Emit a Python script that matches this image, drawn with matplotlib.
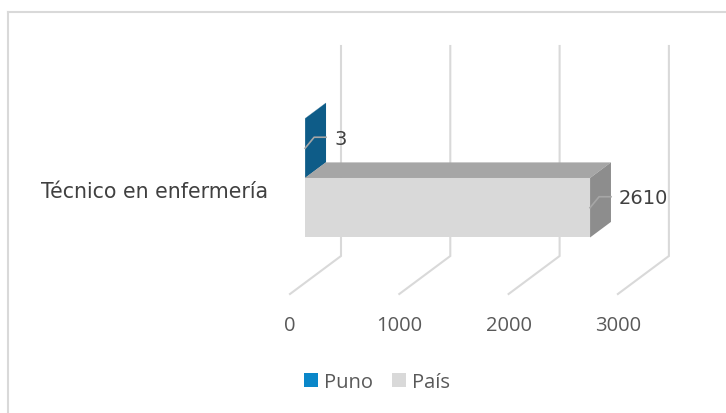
import matplotlib.pyplot as plt
from matplotlib.patches import Polygon, Patch
from matplotlib.lines import Line2D

# datos
categoria = "Técnico en enfermería"
series = ["Puno", "País"]
valores = [3, 2610]
ticks = [0, 1000, 2000, 3000]

# colores (cara frontal, cara superior, cara lateral, leyenda)
col_front = ["#0E5C88", "#D9D9D9"]
col_top = ["#0B4E75", "#A6A6A6"]
col_side = ["#0E5C88", "#8D8D8D"]
col_leg = ["#0A87C9", "#D9D9D9"]
grid_col = "#D9D9D9"
txt_col = "#595959"

W, H = 726, 414
PX = 0.1093          # pixeles por unidad
X0 = 290             # pixel del valor 0 (plano frontal)
DXu = 51 / PX        # profundidad del piso en unidades
DY = 38              # profundidad del piso en pixeles (vertical)
FLOOR_Y = 295
TOP_Y = 47
d0, d1 = 0.29, 0.70  # posicion de las barras en la profundidad
bar_h = 59.5
cat_y = 190          # centro de la categoria en el plano frontal

fig = plt.figure(figsize=(W / 100, H / 100), dpi=100)
ax = fig.add_axes([0, 0, 1, 1])
ax.set_xlim(-X0 / PX, (W - X0) / PX)
ax.set_ylim(H, 0)
ax.axis("off")

# borde del grafico
fig.add_artist(Line2D([8 / W, 1], [1 - 13 / H] * 2, color=grid_col, lw=1.5))
fig.add_artist(Line2D([8 / W] * 2, [0, 1 - 13 / H], color=grid_col, lw=1.5))

# lineas de division (pared y piso)
for t in ticks:
    ax.plot([t, t + DXu, t + DXu], [FLOOR_Y, FLOOR_Y - DY, TOP_Y],
            color=grid_col, lw=1.5, solid_joinstyle="miter", zorder=1)
    ax.text(t, 326, f"{t}", ha="center", va="center", fontsize=14.5,
            color=txt_col, family="Open Sans")

# barras 3D
off_x = d0 * DXu
off_y = d0 * DY
bx = (d1 - d0) * DXu
by = (d1 - d0) * DY
tops = [cat_y - bar_h, cat_y]
for i, v in enumerate(valores):
    y_top = tops[i] - off_y
    y_bot = y_top + bar_h
    ax.barh(y_top + bar_h / 2, v, height=bar_h, left=off_x,
            color=col_front[i], zorder=3 + i)
    x_end = off_x + v
    ax.add_patch(Polygon([(off_x, y_top), (x_end, y_top), (x_end + bx, y_top - by),
                          (off_x + bx, y_top - by)], closed=True,
                         facecolor=col_top[i], edgecolor="none", zorder=3 + i))
    ax.add_patch(Polygon([(x_end, y_top), (x_end + bx, y_top - by),
                          (x_end + bx, y_bot - by), (x_end, y_bot)], closed=True,
                         facecolor=col_side[i], edgecolor="none", zorder=3 + i))
    # etiqueta de datos con linea guia
    y_mid = y_top + bar_h / 2
    lx = [x_end, x_end + 9 / PX, x_end + bx]
    ly = [y_mid, y_mid - 11, y_mid - 11]
    ax.plot(lx, ly, color="#A6A6A6", lw=1.2, zorder=6)
    ax.text(x_end + bx + 8 / PX, y_mid - 10, f"{v}", ha="left", va="center",
            fontsize=14, color="#404040", family="DejaVu Sans", zorder=6)

# etiqueta de categoria
ax.text(-22 / PX, cat_y + 2, categoria, ha="right", va="center",
        fontsize=14.8, color="#404040", family="DejaVu Sans")

# leyenda
handles = [Patch(facecolor=col_leg[i], edgecolor="none", label=series[i])
           for i in range(len(series))]
fig.legend(handles=handles, loc="center", bbox_to_anchor=(377 / W, 1 - 383 / H),
           ncol=2, frameon=False, handlelength=0.7, handleheight=0.7,
           handletextpad=0.3, columnspacing=0.9, labelcolor=txt_col,
           prop={"family": "Open Sans", "size": 14.5})

fig.savefig("out.png", dpi=100)
